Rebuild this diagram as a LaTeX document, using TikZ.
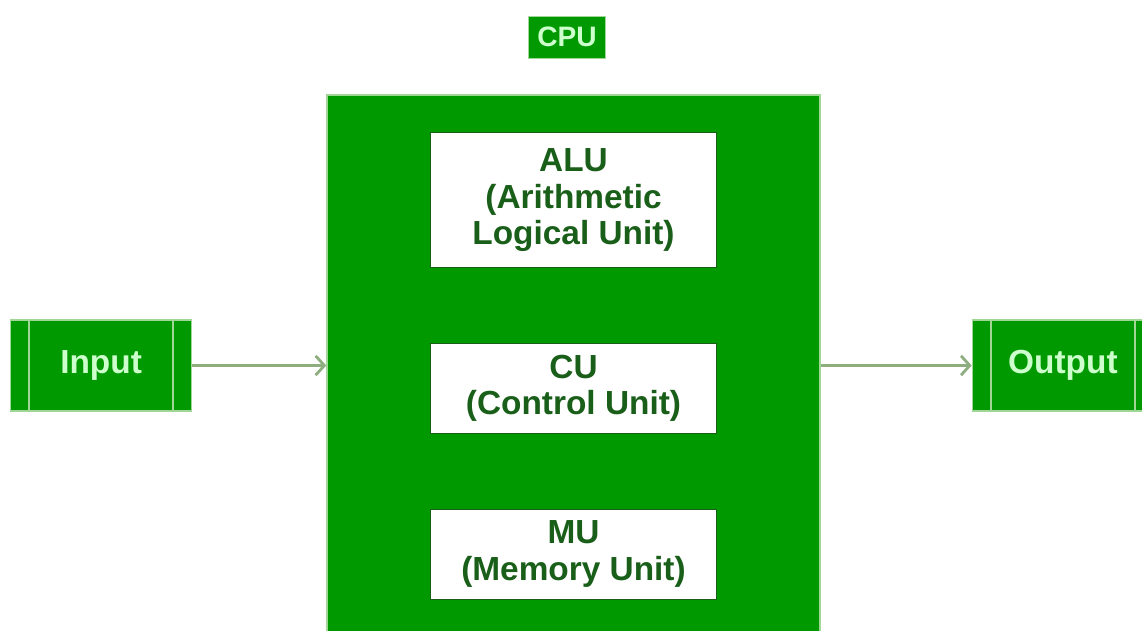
\documentclass[tikz,border=0pt]{standalone}
\usepackage{fontspec}
\setmainfont{Liberation Sans}
\usetikzlibrary{arrows.meta, positioning}

\definecolor{cpuGreen}{RGB}{0,153,0}
\definecolor{paleGreen}{RGB}{204,255,204}
\definecolor{darkGreen}{RGB}{25,95,25}
\definecolor{edgeGreen}{RGB}{160,215,150}
\definecolor{arrowGrey}{RGB}{143,174,128}

\begin{document}
\begin{tikzpicture}[
    node distance=1.5cm,
    font=\bfseries\fontsize{19}{20.8}\selectfont,
    unit/.style ={rectangle, draw=darkGreen, thin, fill=white, text=darkGreen, align=center, inner sep=0pt, minimum width=5.72cm},
    io/.style ={rectangle, draw=edgeGreen, thick, fill=cpuGreen, text=paleGreen, inner sep=0pt, minimum width=3.62cm, minimum height=1.82cm,
        path picture={\draw[edgeGreen, thick]
            ([xshift=0.37cm]path picture bounding box.north west) -- ([xshift=0.37cm]path picture bounding box.south west)
            ([xshift=-0.37cm]path picture bounding box.north east) -- ([xshift=-0.37cm]path picture bounding box.south east);}},
    line/.style ={draw, arrowGrey, line width=1.2pt, -{Straight Barb[length=5pt, width=11pt, line width=1.6pt]}},
]
\path [use as bounding box, clip] (0,0) rectangle (22.84,12.6);

% Nodes
\node [rectangle, draw=edgeGreen, thick, fill=cpuGreen, minimum width=9.86cm, minimum height=10.82cm] (cpu) at (11.47,5.29) {};
\node [rectangle, draw=edgeGreen, fill=cpuGreen, text=paleGreen, inner sep=0pt, minimum width=1.54cm, minimum height=0.84cm,
    font=\bfseries\fontsize{16}{19}\selectfont, above=0.72cm of cpu, xshift=-0.13cm] (cpulabel) {CPU};
\node [unit, minimum height=2.7cm, below=0.76cm of cpu.north] (alu) {ALU\\(Arithmetic\\Logical Unit)};
\node [unit, minimum height=1.8cm, below=of alu] (cu) {CU\\(Control Unit)};
\node [unit, minimum height=1.8cm, below=of cu] (mu) {MU\\(Memory Unit)};
\node [io, left=2.68cm of cpu] (input) {Input};
\node [io, right=3.02cm of cpu] (output) {Output};

% Lines
\path [line] (input) -- (cpu);
\path [line] (cpu) -- (output);

\end{tikzpicture}
\end{document}
